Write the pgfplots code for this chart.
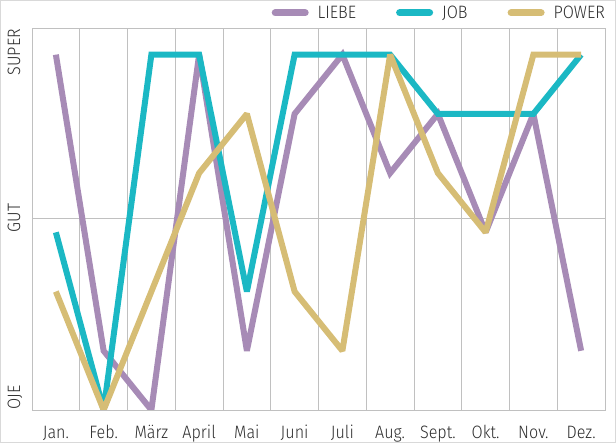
\documentclass[border=0pt]{standalone}
\usepackage{fontspec}
\setmainfont{Fira Sans}[UprightFont={* Light}, FakeStretch=0.9]
\usepackage{pgfplots}
\pgfplotsset{compat=1.18}

\definecolor{liebe}{RGB}{167,139,182}
\definecolor{job}{RGB}{27,184,196}
\definecolor{power}{RGB}{214,189,117}
\definecolor{gridgray}{RGB}{192,192,192}
\definecolor{txt}{RGB}{45,45,45}

% mood levels: 0 = OJE ... 6 = SUPER
\pgfplotstableread{
m  liebe job power
0  6     3   2
1  1     0   0
2  0     6   2
3  6     6   4
4  1     2   5
5  5     6   2
6  6     6   1
7  4     6   6
8  5     5   4
9  3     5   3
10 5     5   6
11 1     6   6
}\moods

\begin{document}
\begin{tikzpicture}[font=\fontsize{18}{18}\selectfont, text=txt]
\path[use as bounding box] (-32bp,-33bp) rectangle (584bp,410bp);
\draw[gray!30, line width=1bp] (-31.5bp,-32.5bp) rectangle (583.5bp,409.5bp);
\begin{axis}[
  at={(0,0)}, anchor=south west,
  scale only axis, width=573bp, height=382bp,
  xmin=-0.5, xmax=11.5, ymin=0, ymax=6.45,
  xtick={0,...,11},
  xticklabels={Jan.,Feb.,März,April,Mai,Juni,Juli,Aug.,Sept.,Okt.,Nov.,Dez.},
  minor xtick={0.5,1.5,...,10.5}, xminorgrids,
  ytick={3.23}, yticklabels={}, ymajorgrids,
  major tick length=0, minor tick length=0,
  axis line style={gridgray, line width=0.9bp},
  major grid style={gridgray, line width=0.9bp},
  minor grid style={gridgray, line width=0.9bp},
  xticklabel style={font=\fontsize{18}{18}\selectfont, text=txt, anchor=base, yshift=-28bp},
  every axis plot/.append style={line width=6bp, line join=miter, miter limit=2},
  legend style={at={(1,1)}, anchor=south east, xshift=2bp, yshift=6bp,
    draw=none, fill=none, inner sep=0pt,
    font=\fontsize{18}{18}\selectfont, text=txt,
    /tikz/every even column/.append style={column sep=38bp}},
  legend columns=3,
  legend image code/.code={%
    \draw[line width=7bp, line cap=round] (3.5bp,0bp) -- (33.5bp,0bp);
    \path (41bp,0bp);},
]
\addplot[liebe] table[x=m, y=liebe] {\moods};
\addlegendentry{LIEBE}
\addplot[job] table[x=m, y=job] {\moods};
\addlegendentry{JOB}
\addplot[power] table[x=m, y=power] {\moods};
\addlegendentry{POWER}
\end{axis}
\node[rotate=90, anchor=base west, inner sep=0pt] at (-12bp,0.5bp) {OJE};
\node[rotate=90, anchor=base, inner sep=0pt] at (-12bp,192bp) {GUT};
\node[rotate=90, anchor=base east, inner sep=0pt] at (-12bp,381bp) {SUPER};
\end{tikzpicture}
\end{document}
